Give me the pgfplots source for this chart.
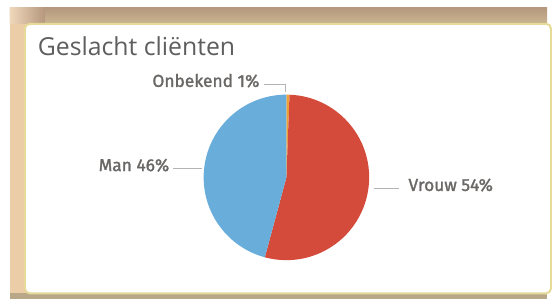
\documentclass[border=0pt]{standalone}
\usepackage{pgfplots}
\pgfplotsset{compat=1.18}
\usepackage{fontspec}
\setmainfont{Open Sans}
\newfontfamily\lblfont{Fira Sans}[FakeBold=1.5]
\definecolor{vrouw}{HTML}{D44B3C}
\definecolor{man}{HTML}{69AEDB}
\definecolor{onb}{HTML}{F0A23A}
\definecolor{lbl}{HTML}{6A6866}
\definecolor{lead}{HTML}{B4B4B4}
\definecolor{ttl}{HTML}{5E5E5E}
\definecolor{topA}{HTML}{B6987F}
\definecolor{topB}{HTML}{C9B690}
\definecolor{sideA}{HTML}{EBCDA8}
\definecolor{brd}{HTML}{E6DA98}
\definecolor{botc}{HTML}{B9A887}
% data (percent)
\def\vOnb{0.6}
\def\vVrouw{53.6}
\def\vMan{45.8}
\begin{document}
\begin{tikzpicture}[x=1bp,y=1bp]
\begin{axis}[
  at={(0,0)}, anchor=origin,
  x=1bp, y=1bp,
  xmin=0, xmax=552, ymin=0, ymax=302,
  hide axis, clip=false,
  scale only axis,
]
% background
\fill[white] (axis cs:0,0) rectangle (axis cs:552,302);
\fill[sideA] (axis cs:10,0) rectangle (axis cs:552,294);
\shade[top color=topA, bottom color=topB] (axis cs:10,278) rectangle (axis cs:552,294);
\shade[left color=sideA!80!white, right color=topA] (axis cs:10,278) rectangle (axis cs:45,294);
\fill[botc] (axis cs:10,0) rectangle (axis cs:552,6);
% card
\draw[brd, line width=2bp, fill=white, rounded corners=5bp] (axis cs:25,6) rectangle (axis cs:556,278);
% pie
\pgfmathsetmacro{\aA}{90}
\pgfmathsetmacro{\aB}{90-3.6*\vOnb}
\pgfmathsetmacro{\aC}{\aB-3.6*\vVrouw}
\pgfmathsetmacro{\aD}{\aC-3.6*\vMan}
\fill[onb] (axis cs:289,123) -- ++(\aA:83.5bp) arc[start angle=\aA, end angle=\aB, radius=83.5bp] -- cycle;
\fill[vrouw] (axis cs:289,123) -- ++(\aB:83.5bp) arc[start angle=\aB, end angle=\aC, radius=83.5bp] -- cycle;
\fill[man] (axis cs:289,123) -- ++(\aC:83.5bp) arc[start angle=\aC, end angle=\aD, radius=83.5bp] -- cycle;
% leaders
\draw[lead, line width=0.9bp] (axis cs:266,217) -- (axis cs:288,217) -- (axis cs:288,209);
\draw[lead, line width=0.9bp] (axis cs:175,132) -- (axis cs:204,132);
\draw[lead, line width=0.9bp] (axis cs:377,112) -- (axis cs:403,112);
% labels
\node[anchor=mid east, inner sep=0, text=lbl, font=\lblfont\fontsize{17.5bp}{19bp}\selectfont] at (axis cs:262,217) {Onbekend 1\%};
\node[anchor=mid east, inner sep=0, text=lbl, font=\lblfont\fontsize{17.5bp}{19bp}\selectfont] at (axis cs:171,132) {Man 46\%};
\node[anchor=mid west, inner sep=0, text=lbl, font=\lblfont\fontsize{17.5bp}{19bp}\selectfont] at (axis cs:412,112) {Vrouw 54\%};
% title
\node[anchor=base west, inner sep=0, text=ttl, font=\fontsize{25bp}{29bp}\selectfont] at (axis cs:38,246) {Geslacht cliënten};
\end{axis}
\useasboundingbox (0,0) rectangle (552,302);
\end{tikzpicture}
\end{document}
